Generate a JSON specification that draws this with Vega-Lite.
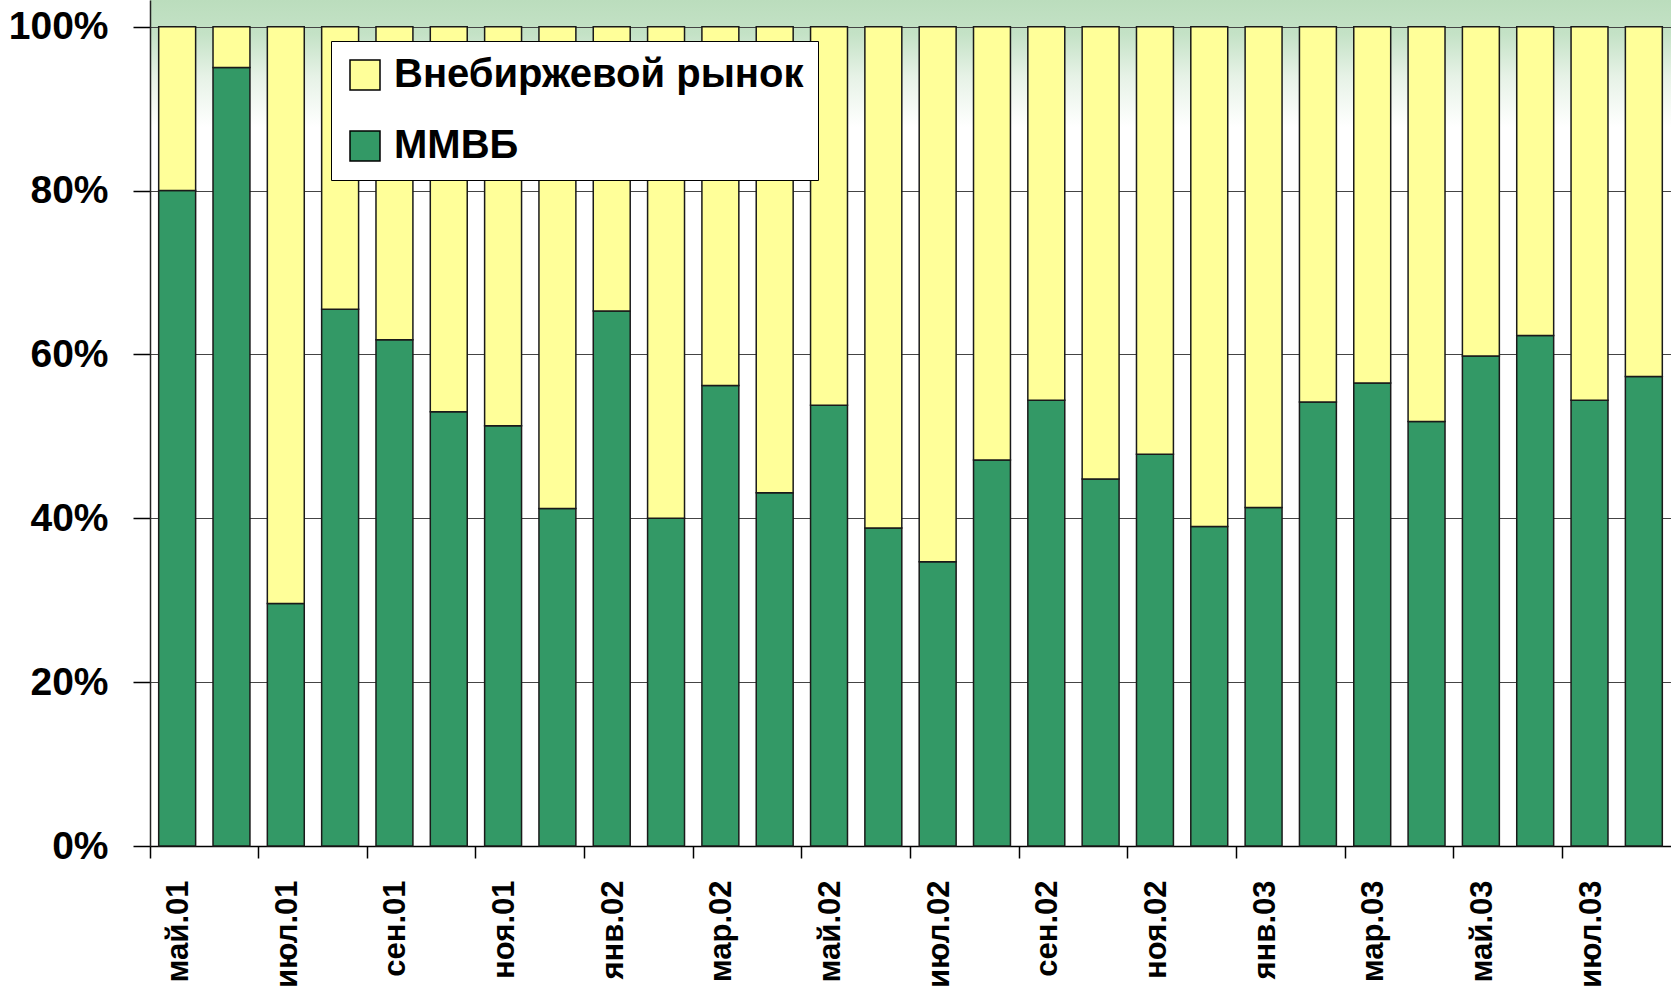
{
  "$schema": "https://vega.github.io/schema/vega-lite/v6.json",
  "width": 1521,
  "height": 846,
  "padding": {"left": 8, "top": 0, "right": 0, "bottom": 0},
  "background": "white",
  "data": {
    "values": [
      {"month": "май.01", "series": "ММВБ", "value": 80.0}, {"month": "май.01", "series": "Внебиржевой рынок", "value": 20.0},
      {"month": "июн.01", "series": "ММВБ", "value": 95.0}, {"month": "июн.01", "series": "Внебиржевой рынок", "value": 5.0},
      {"month": "июл.01", "series": "ММВБ", "value": 29.6}, {"month": "июл.01", "series": "Внебиржевой рынок", "value": 70.4},
      {"month": "авг.01", "series": "ММВБ", "value": 65.5}, {"month": "авг.01", "series": "Внебиржевой рынок", "value": 34.5},
      {"month": "сен.01", "series": "ММВБ", "value": 61.8}, {"month": "сен.01", "series": "Внебиржевой рынок", "value": 38.2},
      {"month": "окт.01", "series": "ММВБ", "value": 53.0}, {"month": "окт.01", "series": "Внебиржевой рынок", "value": 47.0},
      {"month": "ноя.01", "series": "ММВБ", "value": 51.3}, {"month": "ноя.01", "series": "Внебиржевой рынок", "value": 48.7},
      {"month": "дек.01", "series": "ММВБ", "value": 41.2}, {"month": "дек.01", "series": "Внебиржевой рынок", "value": 58.8},
      {"month": "янв.02", "series": "ММВБ", "value": 65.3}, {"month": "янв.02", "series": "Внебиржевой рынок", "value": 34.7},
      {"month": "фев.02", "series": "ММВБ", "value": 40.0}, {"month": "фев.02", "series": "Внебиржевой рынок", "value": 60.0},
      {"month": "мар.02", "series": "ММВБ", "value": 56.2}, {"month": "мар.02", "series": "Внебиржевой рынок", "value": 43.8},
      {"month": "апр.02", "series": "ММВБ", "value": 43.1}, {"month": "апр.02", "series": "Внебиржевой рынок", "value": 56.9},
      {"month": "май.02", "series": "ММВБ", "value": 53.8}, {"month": "май.02", "series": "Внебиржевой рынок", "value": 46.2},
      {"month": "июн.02", "series": "ММВБ", "value": 38.8}, {"month": "июн.02", "series": "Внебиржевой рынок", "value": 61.2},
      {"month": "июл.02", "series": "ММВБ", "value": 34.7}, {"month": "июл.02", "series": "Внебиржевой рынок", "value": 65.3},
      {"month": "авг.02", "series": "ММВБ", "value": 47.1}, {"month": "авг.02", "series": "Внебиржевой рынок", "value": 52.9},
      {"month": "сен.02", "series": "ММВБ", "value": 54.4}, {"month": "сен.02", "series": "Внебиржевой рынок", "value": 45.6},
      {"month": "окт.02", "series": "ММВБ", "value": 44.8}, {"month": "окт.02", "series": "Внебиржевой рынок", "value": 55.2},
      {"month": "ноя.02", "series": "ММВБ", "value": 47.8}, {"month": "ноя.02", "series": "Внебиржевой рынок", "value": 52.2},
      {"month": "дек.02", "series": "ММВБ", "value": 39.0}, {"month": "дек.02", "series": "Внебиржевой рынок", "value": 61.0},
      {"month": "янв.03", "series": "ММВБ", "value": 41.3}, {"month": "янв.03", "series": "Внебиржевой рынок", "value": 58.7},
      {"month": "фев.03", "series": "ММВБ", "value": 54.2}, {"month": "фев.03", "series": "Внебиржевой рынок", "value": 45.8},
      {"month": "мар.03", "series": "ММВБ", "value": 56.5}, {"month": "мар.03", "series": "Внебиржевой рынок", "value": 43.5},
      {"month": "апр.03", "series": "ММВБ", "value": 51.8}, {"month": "апр.03", "series": "Внебиржевой рынок", "value": 48.2},
      {"month": "май.03", "series": "ММВБ", "value": 59.8}, {"month": "май.03", "series": "Внебиржевой рынок", "value": 40.2},
      {"month": "июн.03", "series": "ММВБ", "value": 62.3}, {"month": "июн.03", "series": "Внебиржевой рынок", "value": 37.7},
      {"month": "июл.03", "series": "ММВБ", "value": 54.4}, {"month": "июл.03", "series": "Внебиржевой рынок", "value": 45.6},
      {"month": "авг.03", "series": "ММВБ", "value": 57.3}, {"month": "авг.03", "series": "Внебиржевой рынок", "value": 42.7}
    ]
  },
  "mark": {"type": "bar", "stroke": "#1a1a1a", "strokeWidth": 1.5},
  "encoding": {
    "x": {
      "field": "month",
      "type": "ordinal",
      "sort": null,
      "scale": {"paddingInner": 0.32, "paddingOuter": 0.16},
      "axis": {
        "title": null,
        "values": ["май.01", "июл.01", "сен.01", "ноя.01", "янв.02", "мар.02", "май.02", "июл.02", "сен.02", "ноя.02", "янв.03", "мар.03", "май.03", "июл.03"],
        "bandPosition": -0.235,
        "labelOffset": 2,
        "labelAngle": 270,
        "labelAlign": "right",
        "labelBaseline": "middle",
        "labelFont": "Liberation Sans, Arial, sans-serif",
        "labelFontWeight": "bold",
        "labelFontSize": 31,
        "labelColor": "black",
        "labelPadding": 22,
        "tickSize": 12,
        "tickColor": "black",
        "tickWidth": 1.5,
        "domainColor": "black",
        "domainWidth": 1.5,
        "grid": false
      }
    },
    "y": {
      "field": "value",
      "type": "quantitative",
      "stack": "zero",
      "scale": {"domain": [0, 103.25], "nice": false, "zero": true},
      "axis": {
        "title": null,
        "values": [0, 20, 40, 60, 80, 100],
        "labelExpr": "datum.value + '%'",
        "labelFont": "Liberation Sans, Arial, sans-serif",
        "labelFontWeight": "bold",
        "labelFontSize": 39,
        "labelColor": "black",
        "labelPadding": 25,
        "tickSize": 17,
        "tickColor": "black",
        "tickWidth": 1.5,
        "domainColor": "#222",
        "domainWidth": 1.5,
        "grid": true,
        "gridColor": "#444",
        "gridWidth": 1.2
      }
    },
    "color": {
      "field": "series",
      "type": "nominal",
      "scale": {"domain": ["Внебиржевой рынок", "ММВБ"], "range": ["#FFFF99", "#339966"]},
      "legend": {
        "title": null,
        "orient": "none",
        "legendX": 181,
        "legendY": 41,
        "direction": "vertical",
        "symbolType": "square",
        "symbolSize": 900,
        "symbolStrokeColor": "black",
        "symbolStrokeWidth": 1.5,
        "labelFont": "Liberation Sans, Arial, sans-serif",
        "labelFontWeight": "bold",
        "labelFontSize": 40,
        "labelColor": "black",
        "labelOffset": 9,
        "labelLimit": 800,
        "rowPadding": 31,
        "padding": 14,
        "fillColor": "white",
        "strokeColor": "black",
        "cornerRadius": 0
      }
    },
    "order": {"field": "series", "sort": "descending"}
  },
  "config": {
    "view": {
      "stroke": null,
      "fill": {
        "gradient": "linear",
        "x1": 0, "y1": 0, "x2": 0, "y2": 1,
        "stops": [
          {"offset": 0, "color": "#BBDDBD"},
          {"offset": 0.04, "color": "#C4E2C6"},
          {"offset": 0.09, "color": "#E6F2E6"},
          {"offset": 0.15, "color": "#FFFFFF"},
          {"offset": 1, "color": "#FFFFFF"}
        ]
      }
    }
  }
}
